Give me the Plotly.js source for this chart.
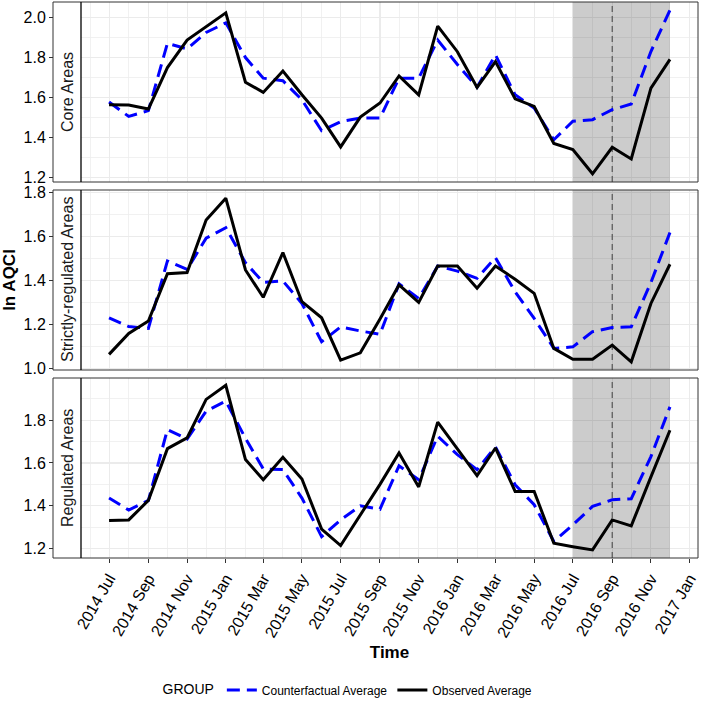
<!DOCTYPE html>
<html>
<head>
<meta charset="utf-8">
<script src="https://cdn.plot.ly/plotly-3.0.1.min.js"></script>
<style>html,body{margin:0;padding:0;background:#fff;}#chart{width:702px;height:706px;}</style>
</head>
<body>
<div id="chart"></div>
<script>
const dates = ['2014-07-01','2014-08-01','2014-09-01','2014-10-01','2014-11-01','2014-12-01',
  '2015-01-01','2015-02-01','2015-03-01','2015-04-01','2015-05-01','2015-06-01',
  '2015-07-01','2015-08-01','2015-09-01','2015-10-01','2015-11-01','2015-12-01',
  '2016-01-01','2016-02-01','2016-03-01','2016-04-01','2016-05-01','2016-06-01',
  '2016-07-01','2016-08-01','2016-09-01','2016-10-01','2016-11-01','2016-12-01'];

const panelNames = ['Core Areas', 'Strictly-regulated Areas', 'Regulated Areas'];
const seriesNames = ['Counterfactual Average', 'Observed Average'];

const coreObserved = [1.564,1.563,1.543,1.750,1.887,1.955,2.023,1.677,1.626,1.733,1.614,1.498,
  1.354,1.503,1.573,1.708,1.614,1.957,1.829,1.651,1.780,1.594,1.556,1.371,1.341,1.220,1.352,1.294,1.647,1.791];
const coreCounterfactual = [1.578,1.506,1.535,1.871,1.843,1.925,1.973,1.800,1.697,1.684,1.589,1.435,
  1.480,1.498,1.498,1.697,1.697,1.887,1.765,1.652,1.813,1.614,1.548,1.390,1.482,1.490,1.540,1.568,1.830,2.036];

const strictObserved = [1.064,1.159,1.215,1.430,1.435,1.674,1.773,1.447,1.323,1.526,1.303,1.230,
  1.038,1.071,1.225,1.379,1.300,1.465,1.465,1.364,1.465,1.405,1.341,1.091,1.042,1.042,1.106,1.030,1.295,1.473];
const strictCounterfactual = [1.230,1.190,1.182,1.488,1.450,1.591,1.639,1.480,1.391,1.397,1.295,1.121,
  1.189,1.170,1.155,1.384,1.318,1.465,1.442,1.409,1.503,1.348,1.227,1.091,1.098,1.167,1.186,1.189,1.390,1.617];

const regObserved = [1.331,1.334,1.425,1.667,1.717,1.897,1.963,1.616,1.522,1.627,1.525,1.291,
  1.214,1.355,1.500,1.647,1.488,1.791,1.666,1.541,1.670,1.467,1.467,1.225,1.209,1.194,1.334,1.306,1.535,1.753];
const regCounterfactual = [1.436,1.380,1.425,1.756,1.712,1.842,1.889,1.715,1.572,1.569,1.436,1.256,
  1.334,1.400,1.384,1.587,1.522,1.725,1.639,1.569,1.675,1.498,1.405,1.233,1.311,1.397,1.428,1.433,1.630,1.862];

const shadeStart = '2016-07-01', shadeEnd = '2016-12-01', policyDate = '2016-09-01';

const observed = [coreObserved, strictObserved, regObserved];
const counterfactual = [coreCounterfactual, strictCounterfactual, regCounterfactual];

const FONT = 'Liberation Sans, Arial, Helvetica, sans-serif';
const W = 702, H = 706, ML = 53, MR = 4, MT = 2, MB = 148;
const plotW = W - ML - MR, plotH = H - MT - MB;
const stripW = 28;
const xStart = stripW / plotW;
// panel domains (top to bottom) in px
const panelPx = [[2,182],[190,370],[378,558]];
const domains = panelPx.map(p => [ (H - MB - p[1]) / plotH, (H - MB - p[0]) / plotH ]);
const yRanges = [[1.179, 2.077],[0.993, 1.810],[1.156, 1.997]];

const traces = [];
const axNames = ['y','y2','y3'];
for (let i = 0; i < 3; i++) {
  traces.push({
    x: dates, y: counterfactual[i], xaxis: 'x', yaxis: axNames[i], type: 'scatter', mode: 'lines',
    name: seriesNames[0], legendgroup: 'cf', showlegend: i === 0,
    line: {color: '#0000FF', width: 3, dash: '13px,7px'}
  });
  traces.push({
    x: dates, y: observed[i], xaxis: 'x', yaxis: axNames[i], type: 'scatter', mode: 'lines',
    name: seriesNames[1], legendgroup: 'ob', showlegend: i === 0,
    line: {color: '#000000', width: 3}
  });
}

const shapes = [], annotations = [];
for (let i = 0; i < 3; i++) {
  const r = yRanges[i];
  shapes.push({type:'rect', xref:'x', yref: axNames[i], x0: shadeStart, x1: shadeEnd, y0: r[0], y1: r[1],
    fillcolor:'rgba(0,0,0,0.2)', line:{width:0}, layer:'between'});
  shapes.push({type:'line', xref:'x', yref: axNames[i], x0: policyDate, x1: policyDate, y0: r[0], y1: r[1],
    line:{color:'#4D4D4D', width:1.1, dash:'6px,4px'}, layer:'between'});
  shapes.push({type:'rect', xref:'paper', yref:'paper', x0: 0, x1: 1, y0: domains[i][0], y1: domains[i][1],
    fillcolor:'rgba(0,0,0,0)', line:{color:'#333333', width:1}, layer:'above'});
  shapes.push({type:'line', xref:'paper', yref:'paper', x0: xStart, x1: xStart, y0: domains[i][0], y1: domains[i][1],
    line:{color:'#000000', width:1.3}, layer:'above'});
  annotations.push({xref:'paper', yref:'paper', x: xStart/2, y: (domains[i][0]+domains[i][1])/2,
    text: panelNames[i], showarrow:false, textangle:-90, xanchor:'center', yanchor:'middle',
    font:{family:FONT, size:16, color:'#1A1A1A'}});
}

function yAxis(i) {
  const ax = {
    domain: domains[i], range: yRanges[i], anchor: 'free', position: 0,
    dtick: 0.2, tick0: 0, tickformat: '.1f',
    ticks: 'outside', ticklen: 4, tickwidth: 1, tickcolor: '#333333',
    tickfont: {family: FONT, size: 16, color: '#000000'},
    showgrid: true, gridcolor: '#EBEBEB', gridwidth: 1.1,
    minor: {dtick: 0.1, showgrid: true, gridcolor: '#EDEDED', gridwidth: 0.8, ticks: ''},
    zeroline: false, showline: false, fixedrange: true
  };
  if (i === 1) {
    ax.title = {text: 'ln AQCI', font: {family: FONT, size: 17, color: '#000000', weight: 'bold'}, standoff: 8};
  }
  return ax;
}

const layout = {
  width: W, height: H,
  margin: {l: ML, r: MR, t: MT, b: MB},
  paper_bgcolor: '#FFFFFF', plot_bgcolor: '#FFFFFF',
  font: {family: FONT, color: '#000000'},
  xaxis: {
    domain: [xStart, 1], anchor: 'y3', type: 'date',
    range: ['2014-05-17 19:12', '2017-01-14 04:48'],
    tick0: '2014-07-01', dtick: 'M2', tickformat: '%Y %b', tickangle: -60,
    ticks: 'outside', ticklen: 4, tickwidth: 1, tickcolor: '#333333',
    tickfont: {family: FONT, size: 16, color: '#000000'},
    showgrid: true, gridcolor: '#EBEBEB', gridwidth: 1.1,
    minor: {dtick: 'M1', showgrid: true, gridcolor: '#EDEDED', gridwidth: 0.8, ticks: ''},
    zeroline: false, showline: false, fixedrange: true,
    title: {text: 'Time', font: {family: FONT, size: 17, color: '#000000', weight: 'bold'}, standoff: 6}
  },
  yaxis: yAxis(0), yaxis2: yAxis(1), yaxis3: yAxis(2),
  shapes: shapes, annotations: annotations,
  showlegend: true,
  legend: {
    orientation: 'h', x: (349 - ML) / plotW, xanchor: 'center', y: (H - MB - 690) / plotH, yanchor: 'middle',
    title: {text: 'GROUP', side: 'left', font: {family: FONT, size: 14, color: '#000000'}},
    font: {family: FONT, size: 12, color: '#000000'}, itemwidth: 30, traceorder: 'normal',
    bgcolor: 'rgba(0,0,0,0)'
  }
};

Plotly.newPlot('chart', traces, layout, {displayModeBar: false, staticPlot: true});
</script>
</body>
</html>
